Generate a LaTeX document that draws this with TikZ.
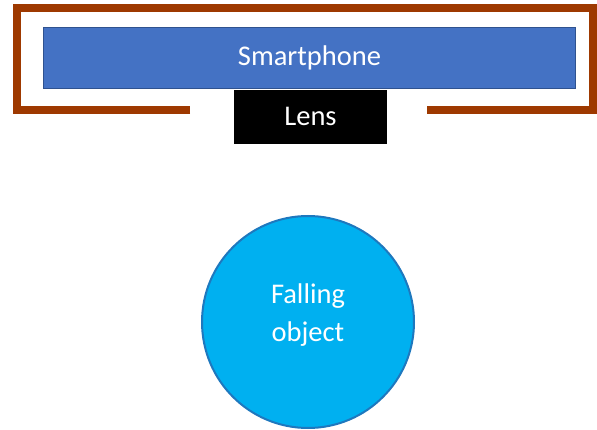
\documentclass[tikz,border=0pt]{standalone}
\usepackage{fontspec}
\setmainfont{Carlito}
\definecolor{frame}{RGB}{158,57,0}
\definecolor{phone}{RGB}{68,114,196}
\definecolor{phoneedge}{RGB}{47,82,143}
\definecolor{ball}{RGB}{0,176,240}
\definecolor{balledge}{RGB}{30,120,190}
\tikzset{
  lbl/.style={text=white, font=\fontsize{28.5}{38}\selectfont, inner sep=0pt},
  phonebox/.style={lbl, fill=phone, draw=phoneedge, line width=1.5pt},
  lensbox/.style={lbl, fill=black},
  objcircle/.style={circle, fill=ball, draw=balledge, line width=2pt, inner sep=0pt},
  holder/.style={draw=frame, line width=8pt, line join=miter}
}
\begin{document}
\begin{tikzpicture}[x=1pt,y=-1pt]
\useasboundingbox (0,0) rectangle (597,430);
\begin{scope}
\clip (0,0) rectangle (597,430);
\draw[holder] (190,110) -- (16.5,110) -- (16.5,8) -- (593,8) -- (593,110) -- (427,110);
\end{scope}
\node[phonebox, minimum width=532pt, minimum height=61pt] (phone) at (309.5,58) {Smartphone};
\node[lensbox, minimum width=152.5pt, minimum height=54pt, anchor=north] (lens) at (310.5,89.5) {Lens};
\node[objcircle, minimum size=212pt] (obj) at (308,322) {};
\node[lbl, align=center] (objtext) at (308,315) {Falling\\object};
\end{tikzpicture}
\end{document}
